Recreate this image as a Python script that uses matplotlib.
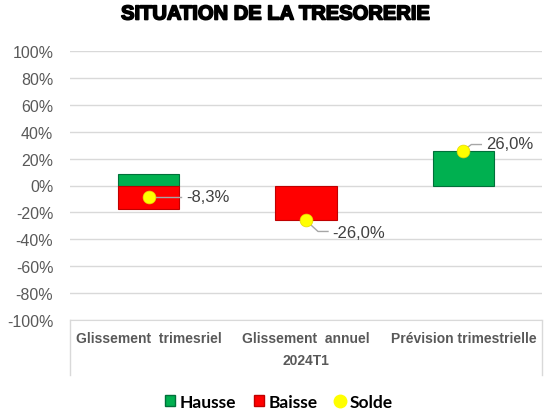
import matplotlib
matplotlib.use("Agg")
import matplotlib.pyplot as plt
from matplotlib.lines import Line2D
from matplotlib.patches import Patch
from matplotlib.transforms import ScaledTranslation
import matplotlib.patheffects as pe

categories = ["Glissement  trimesriel", "Glissement  annuel", "Prévision trimestrielle"]
group_label = "2024T1"
hausse = [8.9, 0.0, 26.0]
baisse = [-17.2, -26.0, 0.0]
solde = [-8.3, -26.0, 26.0]
solde_labels = ["-8,3%", "-26,0%", "26,0%"]
yticks = [-100, -80, -60, -40, -20, 0, 20, 40, 60, 80, 100]

plt.rcParams['font.family'] = ['Liberation Sans', 'DejaVu Sans']

fig = plt.figure(figsize=(5.52, 4.14), dpi=100)
ax = fig.add_axes([70/552, 1-321/414, 472/552, 269/414])

x = list(range(len(categories)))
w = 0.39
ax.bar(x, hausse, width=w, color='#00B050',
       edgecolor=['#00703A' if v != 0 else 'none' for v in hausse], linewidth=0.8, zorder=3)
ax.bar(x, baisse, width=w, color='#FF0000',
       edgecolor=['#C00000' if v != 0 else 'none' for v in baisse], linewidth=0.8, zorder=3)
ax.scatter(x, solde, s=85, color='#FFFF00', edgecolor='#E6D800', linewidth=0.5, zorder=5)

ax.set_xlim(-0.5, len(categories)-0.5)
ax.set_ylim(-100, 100)
ax.set_yticks(yticks)
ax.set_yticklabels([f"{v}%" for v in yticks], color='#595959', fontsize=11.5)
ax.tick_params(axis='y', length=0, pad=12)
ax.set_xticks([])
ax.grid(axis='y', color='#D9D9D9', linewidth=1, zorder=0)
for s in ['left', 'right', 'top']:
    ax.spines[s].set_visible(False)
ax.spines['bottom'].set_color('#D9D9D9')

# category box
box_h = (376-321)/269
for xx in [0, 1]:
    ax.plot([xx, xx], [0, -box_h], transform=ax.transAxes, color='#D9D9D9', lw=1, clip_on=False)
for i, c in enumerate(categories):
    ax.text(i, -(339-321)/269*200-100, c, ha='center', va='center', fontsize=10,
            fontweight='bold', color='#595959', clip_on=False)
ax.text(0.5, -(361-321)/269, group_label, transform=ax.transAxes, ha='center', va='center',
        fontsize=10, fontweight='bold', color='#595959')

# data labels with leader lines (offsets in pixels at 100 dpi)
leader_px = [[(0, 0), (32, 0)],
             [(0, 0), (12, -11), (22, -11)],
             [(0, 0), (8, 6), (18, 6)]]
text_px = [(38, 0), (26, -12), (23, 7)]
for i in range(len(categories)):
    tr = fig.dpi_scale_trans + ScaledTranslation(x[i], solde[i], ax.transData)
    xs = [p[0]/100 for p in leader_px[i]]
    ys = [p[1]/100 for p in leader_px[i]]
    ax.plot(xs, ys, transform=tr, color='#A6A6A6', lw=1, zorder=4, clip_on=False)
    ax.text(text_px[i][0]/100, text_px[i][1]/100, solde_labels[i], transform=tr,
            ha='left', va='center', fontsize=12, color='#404040', zorder=6)

fig.text(0.5, 1-15/414, "SITUATION DE LA TRESORERIE", ha='center', va='center',
         fontsize=14.5, fontweight='bold', color='black',
         path_effects=[pe.withStroke(linewidth=1.2, foreground='black')])

handles = [Patch(facecolor='#00B050', edgecolor='#00703A', label='Hausse'),
           Patch(facecolor='#FF0000', edgecolor='#C00000', label='Baisse'),
           Line2D([], [], marker='o', linestyle='none', markersize=9, markerfacecolor='#FFFF00',
                  markeredgecolor='#FFFF00', label='Solde')]
leg = fig.legend(handles=handles, loc='center', bbox_to_anchor=(0.505, 1-403/414), ncol=3, frameon=False,
                 handlelength=0.6, handleheight=0.6, handletextpad=0.25, columnspacing=1.0,
                 prop={'family': 'Lato', 'weight': 'bold', 'size': 12.5})

fig.savefig("out.png", dpi=100)
